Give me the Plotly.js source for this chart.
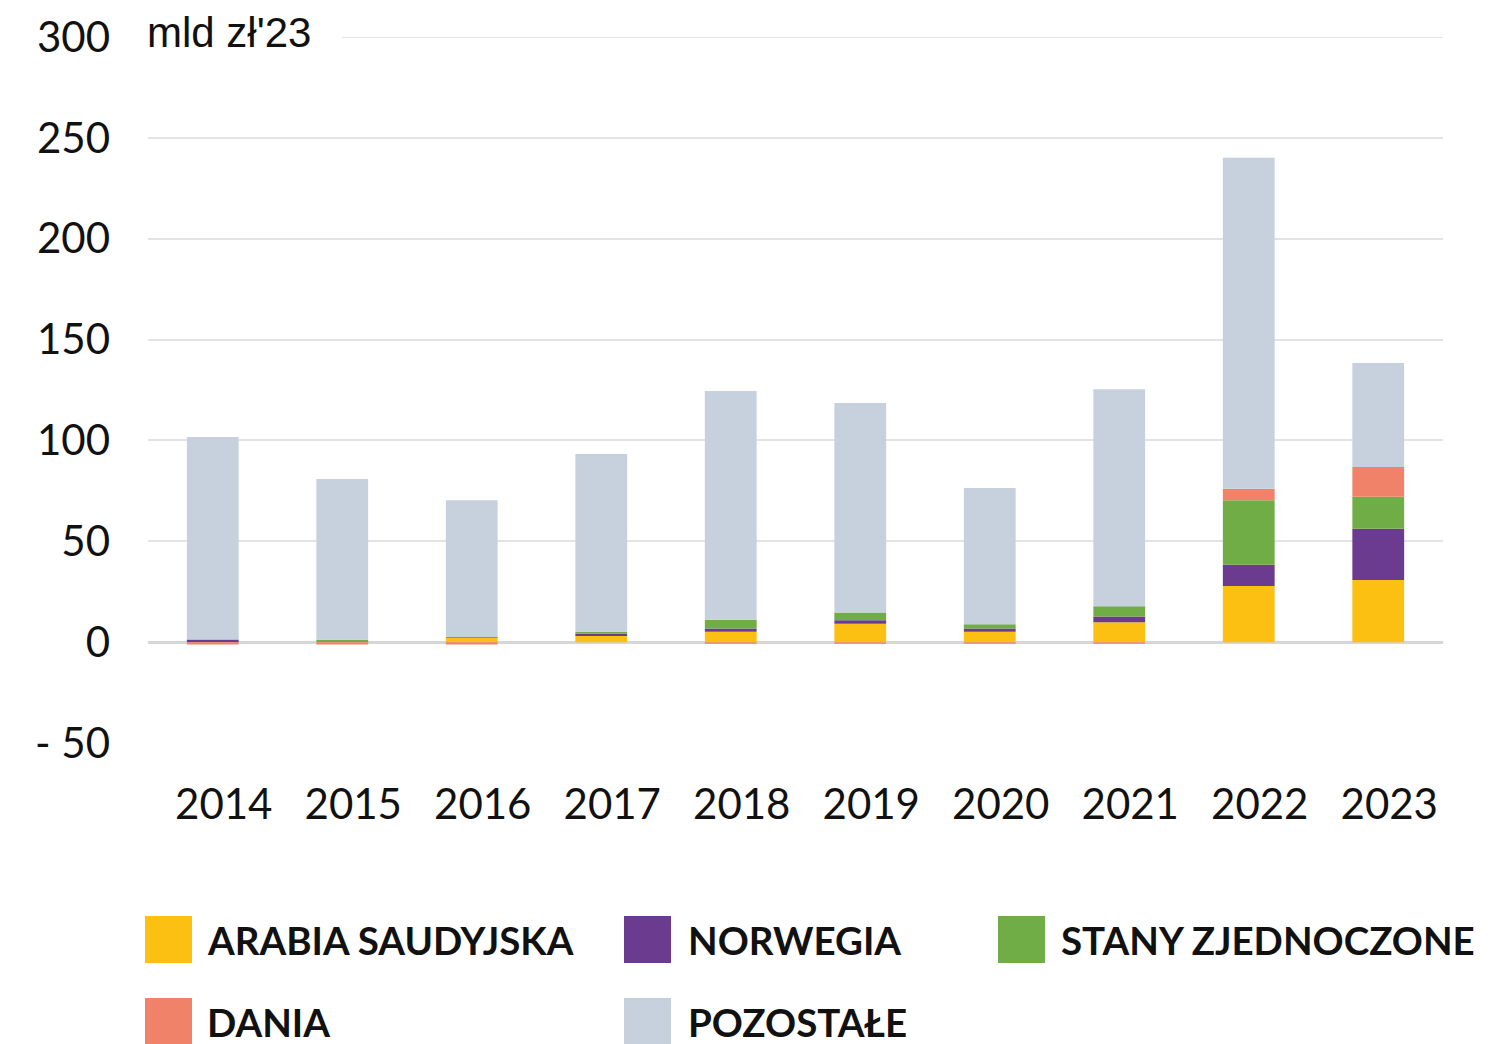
<!DOCTYPE html>
<html>
<head>
<meta charset="utf-8">
<script src="https://cdn.plot.ly/plotly-3.0.1.min.js"></script>
<style>html,body{margin:0;padding:0;background:#fff;}#chart{width:1502px;height:1044px;}</style>
</head>
<body>
<div id="chart"></div>
<script>
const years = ['2014','2015','2016','2017','2018','2019','2020','2021','2022','2023'];
const seriesNames = ['ARABIA SAUDYJSKA','NORWEGIA','STANY ZJEDNOCZONE','DANIA','POZOSTAŁE'];
const arabia     = [0, 0, 2.0, 3.0, 5.1, 9.1, 5.1, 9.9, 27.8, 30.8];
const norwegia   = [1.3, 0, 0, 1.2, 1.7, 1.8, 1.7, 2.8, 10.6, 25.4];
const stany      = [0, 1.2, 0.6, 1.0, 4.3, 3.8, 2.1, 5.1, 31.9, 15.9];
const dania      = [-1.2, -1.2, -1.2, 0, -0.8, -0.8, -0.8, -0.8, 5.8, 14.7];
const pozostale  = [100.4, 79.7, 67.8, 88.1, 113.4, 103.8, 67.5, 107.6, 164.0, 51.6];
const yTickVals  = [-50, 0, 50, 100, 150, 200, 250, 300];
const yTickText  = ['- 50', '0', '50', '100', '150', '200', '250', '300'];
const unitLabel  = "mld zł'23";
const colors = ['#FBC012', '#6A3B8F', '#70AD47', '#F0826A', '#C6D1DD'];
const seriesValues = [arabia, norwegia, stany, dania, pozostale];

const M = {l: 148, r: 59, t: 37, b: 301};
const W = 1502, H = 1044;
const pw = W - M.l - M.r, ph = H - M.t - M.b;
const px = x => (x - M.l) / pw;
const py = y => (H - M.b - y) / ph;

const traces = seriesNames.map((n, i) => ({
  type: 'bar', name: n, x: years, y: seriesValues[i],
  marker: {color: colors[i], line: {width: 0}},
  width: 0.4, showlegend: false, hoverinfo: 'x+y+name'
}));

const legendPos = [
  {sx: 145, tx: 205, cy: 940},
  {sx: 624, tx: 686, cy: 940},
  {sx: 998, tx: 1059, cy: 940},
  {sx: 145, tx: 205, cy: 1022},
  {sx: 624, tx: 686, cy: 1022}
];
const shapes = [
  {type: 'line', xref: 'paper', yref: 'y', x0: px(342), x1: 1, y0: yTickVals[yTickVals.length - 1], y1: yTickVals[yTickVals.length - 1],
   line: {color: '#e3e3e3', width: 2}, layer: 'below'}
];
const annotations = [
  {xref: 'paper', yref: 'paper', x: px(145), y: py(33), xanchor: 'left', yanchor: 'middle',
   text: unitLabel, showarrow: false, font: {family: 'Liberation Sans, Arial', size: 42, color: '#111'}}
];
seriesNames.forEach((n, i) => {
  const p = legendPos[i];
  shapes.push({type: 'rect', xref: 'paper', yref: 'paper', x0: px(p.sx), x1: px(p.sx + 47),
    y0: py(p.cy + 23), y1: py(p.cy - 24), fillcolor: colors[i], line: {width: 0}});
  annotations.push({xref: 'paper', yref: 'paper', x: px(p.tx), y: py(p.cy), xanchor: 'left', yanchor: 'middle',
    text: '<b>' + n + '</b>', showarrow: false, font: {family: 'Lato', size: 38.5, color: '#111'}});
});

const layout = {
  width: W, height: H,
  margin: M,
  paper_bgcolor: '#fff', plot_bgcolor: '#fff',
  barmode: 'relative', bargap: 0.6,
  font: {family: 'Lato', size: 42, color: '#111'},
  xaxis: {type: 'category', range: [-0.5, 9.5], showgrid: false, showline: false, zeroline: false,
    ticks: '', tickfont: {family: 'Lato', size: 42, color: '#111'}, ticklabelstandoff: 33, ticklabelshift: 11},
  yaxis: {range: [-50, 300], tickvals: yTickVals, ticktext: yTickText, showgrid: true,
    gridcolor: '#e3e3e3', gridwidth: 2, zeroline: true, zerolinecolor: '#d6d6d6', zerolinewidth: 3,
    showline: false, ticks: '', tickfont: {family: 'Lato', size: 42, color: '#111'}, ticklabelstandoff: 37},
  shapes: shapes,
  annotations: annotations
};
Plotly.newPlot('chart', traces, layout, {displayModeBar: false, staticPlot: true});
</script>
</body>
</html>
